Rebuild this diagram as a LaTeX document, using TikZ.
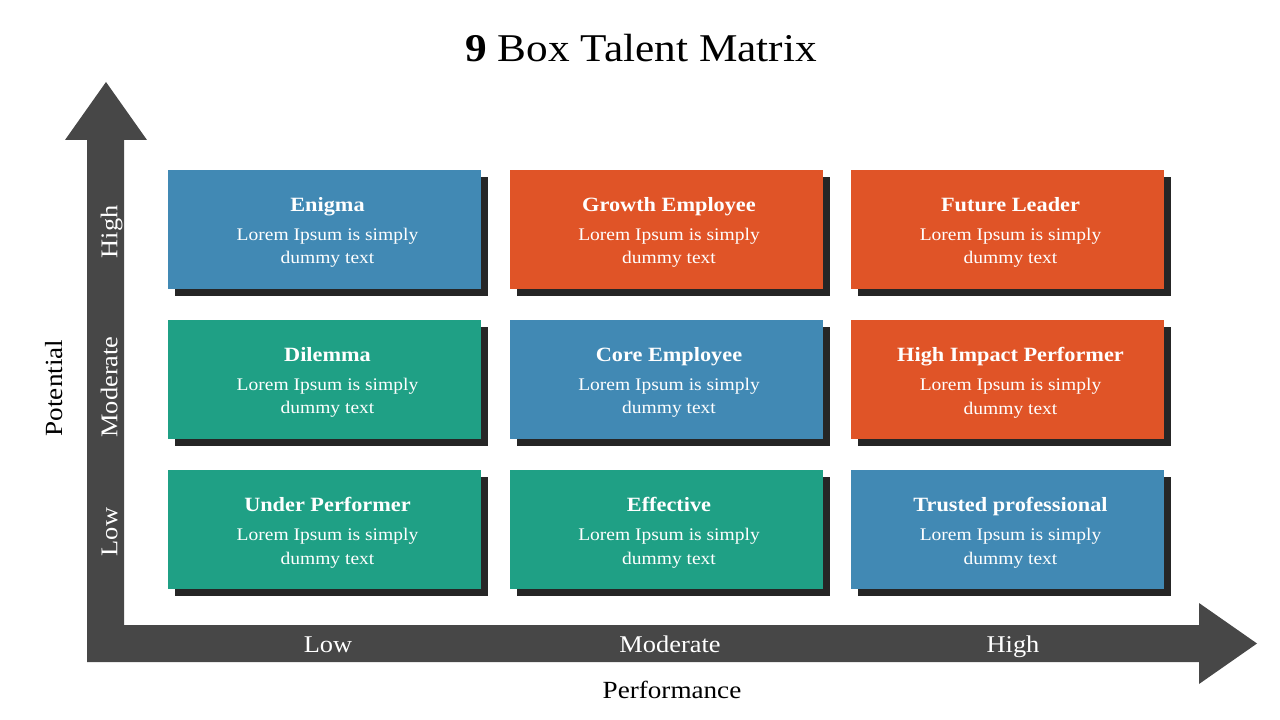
\documentclass[tikz,border=0pt]{standalone}
\usepackage{fontspec}
\setmainfont{Liberation Serif}[FakeStretch=1.1]
\usetikzlibrary{shadows}

\definecolor{cellblue}{HTML}{4189B4}
\definecolor{cellorange}{HTML}{E05427}
\definecolor{cellgreen}{HTML}{1FA085}
\definecolor{cellshadow}{HTML}{262626}
\definecolor{axisgray}{HTML}{474747}

\begin{document}
\begin{tikzpicture}[
        x=0.75pt, y=-0.75pt,
        cell/.style={rectangle, minimum width=234.75pt, minimum height=89.25pt,
            inner sep=0pt,
            drop shadow={shadow xshift=5.25pt, shadow yshift=-5.25pt,
                fill=cellshadow, opacity=1}},
        celltext/.style={text=white, align=center, inner sep=0pt,
            font=\fontsize{13.3}{17.5}\selectfont},
        axislabel/.style={text=white, text height=12pt, text depth=4pt,
            font=\fontsize{18}{21}\selectfont},
        axisname/.style={text=black, font=\fontsize{18.5}{22}\selectfont}
    ]

    \useasboundingbox (0,0) rectangle (1280,720);

    % Title
    \node[font=\fontsize{29.5}{34}\selectfont] (title) at (641,48) {\textbf{9} Box Talent Matrix};

    % Axes (one L-shaped double arrow)
    \fill[axisgray] (87,662) -- (87,140) -- (65,140) -- (106,82) -- (147,140)
        -- (124,140) -- (124,625) -- (1199,625) -- (1199,603) -- (1257,643.5)
        -- (1199,684) -- (1199,662) -- cycle;

    % Boxes: name/column/row/colour/heading
    \foreach \name/\col/\row/\clr/\head in {
            enigma/1/1/cellblue/Enigma,
            growth/2/1/cellorange/Growth Employee,
            future/3/1/cellorange/Future Leader,
            dilemma/1/2/cellgreen/Dilemma,
            core/2/2/cellblue/Core Employee,
            impact/3/2/cellorange/High Impact Performer,
            under/1/3/cellgreen/Under Performer,
            effective/2/3/cellgreen/Effective,
            trusted/3/3/cellblue/Trusted professional}
    {
        \node[cell, fill=\clr] (\name) at ({324.5+341.5*(\col-1)}, {229.5+150*(\row-1)}) {};
        \node[celltext] (\name-text) at ([xshift=2.25pt, yshift=-2.25pt]\name.center)
            {{\fontsize{15.2}{17}\selectfont\textbf{\head}}\\[4.5pt]%
             Lorem Ipsum is simply\\dummy text};
    }

    % Potential axis labels
    \node[axislabel, rotate=90] (potlow) at (112,532) {Low};
    \node[axislabel, rotate=90] (potmod) at (112,387) {Moderate};
    \node[axislabel, rotate=90] (pothigh) at (112,232) {High};
    \node[axisname, rotate=90] (potential) at (54,388) {Potential};

    % Performance axis labels
    \node[axislabel] (perflow) at (328,647) {Low};
    \node[axislabel] (perfmod) at (670,647) {Moderate};
    \node[axislabel] (perfhigh) at (1013,647) {High};
    \node[axisname] (performance) at (672,690) {Performance};

\end{tikzpicture}
\end{document}
